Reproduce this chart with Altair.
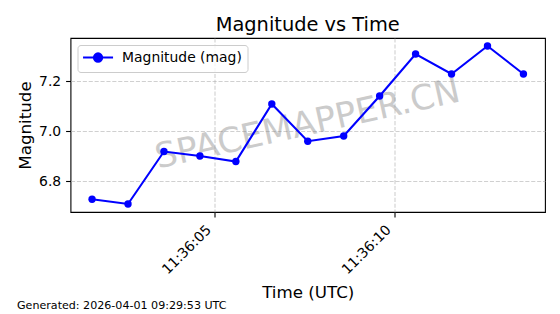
import altair as alt
import pandas as pd

# ---- data ----
date = "2026-04-01"
times = ["11:36:01.600", "11:36:02.600", "11:36:03.600", "11:36:04.600",
         "11:36:05.600", "11:36:06.600", "11:36:07.600", "11:36:08.600",
         "11:36:09.600", "11:36:10.600", "11:36:11.600", "11:36:12.600",
         "11:36:13.600"]
mags = [6.728, 6.709, 6.919, 6.901, 6.879, 7.109, 6.960, 6.981,
        7.141, 7.309, 7.229, 7.341, 7.229]
series_name = "Magnitude (mag)"
y_ticks = [6.8, 7.0, 7.2]
x_tick_seconds = [5, 10]
watermark = ["SPACEMAPPER.CN"]
footer = ["Generated: 2026-04-01 09:29:53 UTC"]

df = pd.DataFrame({
    "time": [f"{date}T{t}Z" for t in times],
    "mag": mags,
    "series": series_name,
})

FONT = "DejaVu Sans"
BLUE = "#0000ff"
W, H = 474.5, 174

def dt(sec, ms=0):
    return alt.DateTime(year=2026, month=4, date=1, hours=11, minutes=36,
                        seconds=sec, milliseconds=ms, utc=True)

x_enc = alt.X(
    "time:T",
    scale=alt.Scale(type="utc", domain=[dt(1, 0), dt(14, 200)]),
    axis=alt.Axis(
        values=[dt(s) for s in x_tick_seconds], format="%H:%M:%S",
        labelAngle=315, labelAlign="right", labelBaseline="middle",
        labelOffset=-5.7, labelPadding=10.6, tickSize=4.9, labelFontSize=13.9,
        labelFlush=False, labelOverlap=False,
        title="Time (UTC)", titleFontSize=16.7, titleFontWeight="normal",
        titleY=85.5, titleBaseline="alphabetic",
    ),
)
y_enc = alt.Y(
    "mag:Q",
    scale=alt.Scale(domain=[6.677, 7.373], nice=False, zero=False),
    axis=alt.Axis(
        values=y_ticks, format=".1f", tickSize=4.9, labelPadding=4.9,
        labelFontSize=13.9,
        title="Magnitude", titleFontSize=16.7, titleFontWeight="normal",
        titleAngle=270, titleX=-40, titleY=H / 2, titleAlign="center",
        titleBaseline="alphabetic",
    ),
)

# legend handle: a line with a filled dot (units are 5 px with symbolSize=100)
legend_symbol = ("M-1.4,0L4.6,0M0.77,0A0.83,0.83,0,1,1,2.43,0"
                 "A0.83,0.83,0,1,1,0.77,0Z")

line = alt.Chart(df).mark_line(color=BLUE, strokeWidth=2.08).encode(
    x=x_enc, y=y_enc)

points = alt.Chart(df).mark_point(filled=True, size=54.6, opacity=1).encode(
    x=x_enc, y=y_enc,
    color=alt.Color(
        "series:N",
        scale=alt.Scale(domain=[series_name], range=[BLUE]),
        legend=alt.Legend(
            title=None, orient="top-left", offset=7, padding=5.6,
            symbolType=legend_symbol, symbolSize=100,
            symbolStrokeWidth=2.08, symbolFillColor=BLUE,
            symbolStrokeColor=BLUE, symbolOpacity=1,
            labelFontSize=13.9, labelOffset=25.1, labelFont=FONT,
            labelColor="black", strokeColor="#cccccc",
            fillColor="rgba(255,255,255,0.8)", cornerRadius=3,
        ),
    ),
)

wm = alt.Chart(pd.DataFrame({"t": watermark})).mark_text(
    fontSize=34.7, angle=347.5, color="gray", opacity=0.4,
    align="center", baseline="middle", font=FONT,
).encode(text="t:N", x=alt.value(W / 2), y=alt.value(H / 2))

foot = alt.Chart(pd.DataFrame({"t": footer})).mark_text(
    fontSize=11.1, color="black", align="left", baseline="alphabetic",
    font=FONT,
).encode(text="t:N", x=alt.value(17 - 70.5), y=alt.value(309 - 38))

chart = alt.layer(wm, line, points, foot).properties(
    width=W, height=H,
    autosize=alt.AutoSizeParams(type="none"),
    padding={"left": 70.5, "top": 38, "right": 15, "bottom": 102},
    title=alt.TitleParams(
        "Magnitude vs Time", fontSize=19.4, fontWeight="normal", font=FONT,
        anchor="middle", baseline="alphabetic", offset=8, frame="group",
        color="black", dy=20.5,
    ),
).configure(
    font=FONT,
    background="white",
).configure_view(
    stroke="black", strokeWidth=1.1,
).configure_axis(
    domain=False, tickColor="black", tickWidth=1.1,
    labelColor="black", titleColor="black", labelFont=FONT, titleFont=FONT,
    grid=True, gridColor="#b0b0b0", gridOpacity=0.6, gridWidth=1.1,
    gridDash=[4.1, 1.8],
)

chart.save("out.html", embed_options={"renderer": "svg", "actions": False})
